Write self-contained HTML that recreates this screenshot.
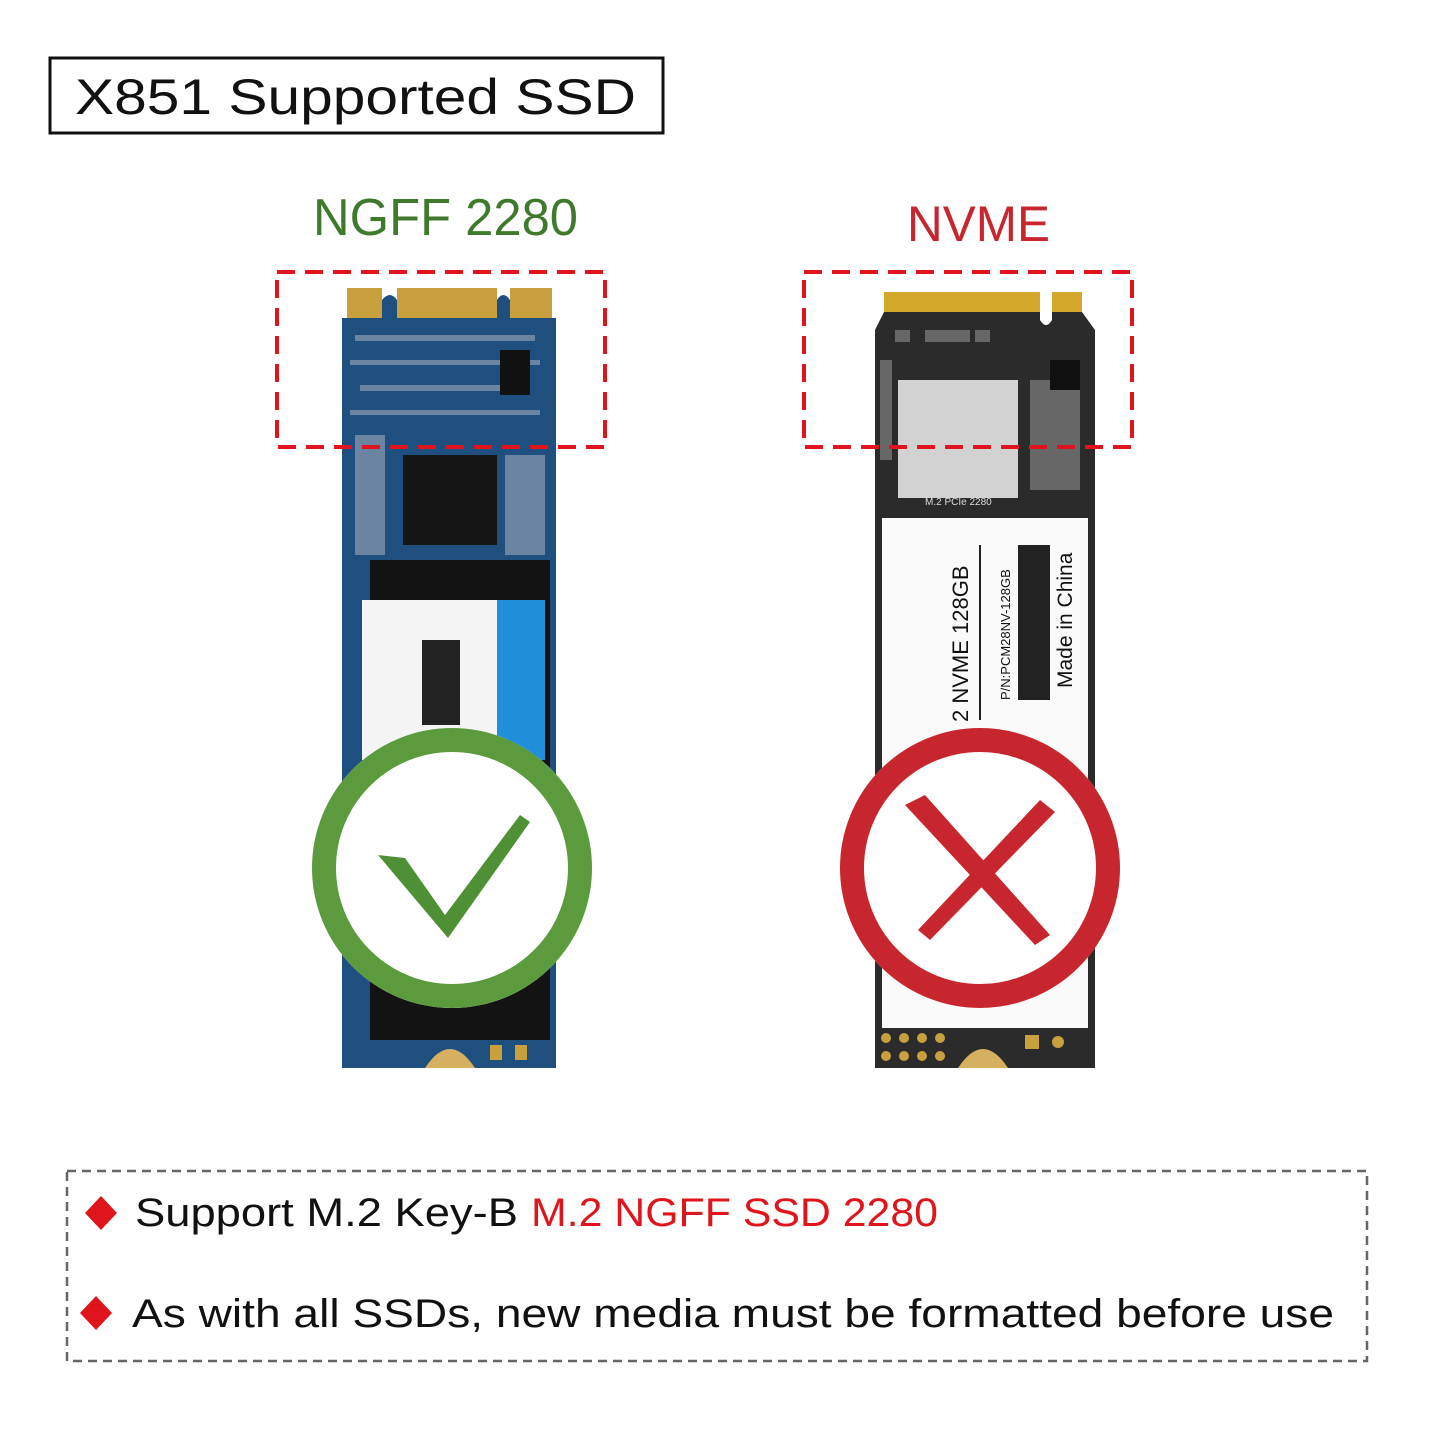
<!DOCTYPE html>
<html><head><meta charset="utf-8">
<style>html,body{margin:0;padding:0;background:#fff}svg{display:block}</style>
</head><body>
<svg width="1445" height="1445" viewBox="0 0 1445 1445" xmlns="http://www.w3.org/2000/svg" font-family="Liberation Sans, sans-serif">
<rect width="1445" height="1445" fill="#fff"/>
<!-- title -->
<rect x="50" y="58" width="613" height="75" fill="none" stroke="#111" stroke-width="3"/>
<text x="75" y="114" font-size="50" fill="#111" textLength="561" lengthAdjust="spacingAndGlyphs">X851 Supported SSD</text>
<text x="313" y="235" font-size="52" fill="#3f7a2c" textLength="265" lengthAdjust="spacingAndGlyphs">NGFF 2280</text>
<text x="907" y="241" font-size="50" fill="#c8262e" textLength="143" lengthAdjust="spacingAndGlyphs">NVME</text>

<!-- left board -->
<g>
<rect x="347" y="288" width="35" height="32" fill="#c9a03e"/>
<rect x="397" y="288" width="100" height="32" fill="#c9a03e"/>
<rect x="510" y="288" width="42" height="32" fill="#c9a03e"/>
<path d="M342 318 H382 V300 Q390 290 397 300 V318 H497 V300 Q503 290 510 300 V318 H556 V1068 H342 Z" fill="#1f4f7e"/>
<g fill="#8a9bb0" opacity="0.7">
<rect x="355" y="335" width="180" height="6"/><rect x="350" y="360" width="190" height="5"/>
<rect x="360" y="385" width="170" height="6"/><rect x="350" y="410" width="190" height="5"/>
<rect x="355" y="435" width="30" height="120"/><rect x="505" y="455" width="40" height="100"/>
</g>
<rect x="403" y="455" width="94" height="90" fill="#151515"/>
<rect x="500" y="350" width="30" height="45" fill="#111"/>
<rect x="370" y="560" width="180" height="480" fill="#131313"/>
<rect x="362" y="600" width="183" height="160" fill="#f4f4f4"/>
<rect x="497" y="600" width="48" height="160" fill="#1e8fd8"/>
<rect x="422" y="640" width="38" height="85" fill="#222"/>
<path d="M425 1068 Q450 1030 475 1068 Z" fill="#d4b060"/>
<rect x="490" y="1045" width="12" height="15" fill="#c9a03e"/><rect x="515" y="1045" width="12" height="15" fill="#c9a03e"/>
</g>

<!-- right board -->
<g>
<rect x="884" y="292" width="156" height="22" fill="#d4a92b"/>
<rect x="1052" y="292" width="30" height="22" fill="#d4a92b"/>
<path d="M875 330 L884 312 H1040 V320 Q1046 330 1052 320 V312 H1082 L1095 330 V1068 H875 Z" fill="#2b2b2b"/>
<g fill="#777" opacity="0.8">
<rect x="895" y="330" width="15" height="12"/><rect x="925" y="330" width="45" height="12"/><rect x="975" y="330" width="15" height="12"/>
<rect x="880" y="360" width="12" height="100"/><rect x="1030" y="380" width="50" height="110"/>
</g>
<rect x="1050" y="360" width="30" height="30" fill="#111"/>
<rect x="898" y="380" width="120" height="118" fill="#d2d2d2"/>
<text x="925" y="505" font-size="10" fill="#ddd">M.2 PCIe 2280</text>
<rect x="882" y="518" width="206" height="510" fill="#fafafa"/>
<g transform="translate(968 722) rotate(-90)"><text font-size="22" fill="#111">2 NVME  128GB</text></g>
<line x1="980" y1="545" x2="980" y2="720" stroke="#222" stroke-width="2"/>
<g transform="translate(1010 700) rotate(-90)"><text font-size="13" fill="#111">P/N:PCM28NV-128GB</text></g>
<rect x="1018" y="545" width="32" height="155" fill="#222"/>
<g transform="translate(1072 688) rotate(-90)"><text font-size="21" fill="#111">Made in China</text></g>
<g fill="#c9a03e"><circle cx="886" cy="1038" r="5"/><circle cx="904" cy="1038" r="5"/><circle cx="922" cy="1038" r="5"/><circle cx="940" cy="1038" r="5"/>
<circle cx="886" cy="1056" r="5"/><circle cx="904" cy="1056" r="5"/><circle cx="922" cy="1056" r="5"/><circle cx="940" cy="1056" r="5"/>
<rect x="1025" y="1035" width="14" height="14"/><circle cx="1058" cy="1042" r="6"/></g>
<path d="M958 1068 Q983 1030 1008 1068 Z" fill="#d4b060"/>
</g>

<!-- dashed red boxes -->
<rect x="277" y="272" width="328" height="175" fill="none" stroke="#e0141c" stroke-width="4" stroke-dasharray="18 10"/>
<rect x="804" y="272" width="328" height="175" fill="none" stroke="#e0141c" stroke-width="4" stroke-dasharray="18 10"/>

<!-- green check circle -->
<circle cx="452" cy="868" r="140" fill="#fff"/>
<circle cx="452" cy="868" r="128" fill="none" stroke="#5b9b3d" stroke-width="24"/>
<path d="M378 855 L405 858 L445 915 L520 815 L530 822 L448 938 Z" fill="#4f8f35"/>

<!-- red x circle -->
<circle cx="980" cy="868" r="140" fill="#fff"/>
<circle cx="980" cy="868" r="128" fill="none" stroke="#c8262e" stroke-width="24"/>
<path d="M905 805 L925 795 L1050 935 L1035 945 Z" fill="#c8262e"/>
<path d="M1040 800 L1055 812 L930 940 L918 930 Z" fill="#c8262e"/>

<!-- bottom dashed box -->
<rect x="67" y="1171" width="1300" height="190" fill="none" stroke="#666" stroke-width="2.5" stroke-dasharray="9 6"/>
<path d="M101 1196 L117 1213 L101 1230 L85 1213 Z" fill="#e0141c"/>
<text x="135" y="1226" font-size="40" fill="#111" textLength="383" lengthAdjust="spacingAndGlyphs">Support M.2 Key-B</text>
<text x="531" y="1226" font-size="40" fill="#e0141c" textLength="407" lengthAdjust="spacingAndGlyphs">M.2 NGFF SSD 2280</text>
<path d="M96 1296 L112 1313 L96 1330 L80 1313 Z" fill="#e0141c"/>
<text x="132" y="1327" font-size="40" fill="#111" textLength="1202" lengthAdjust="spacingAndGlyphs">As with all SSDs, new media must be formatted before use</text>
</svg>
</body></html>
